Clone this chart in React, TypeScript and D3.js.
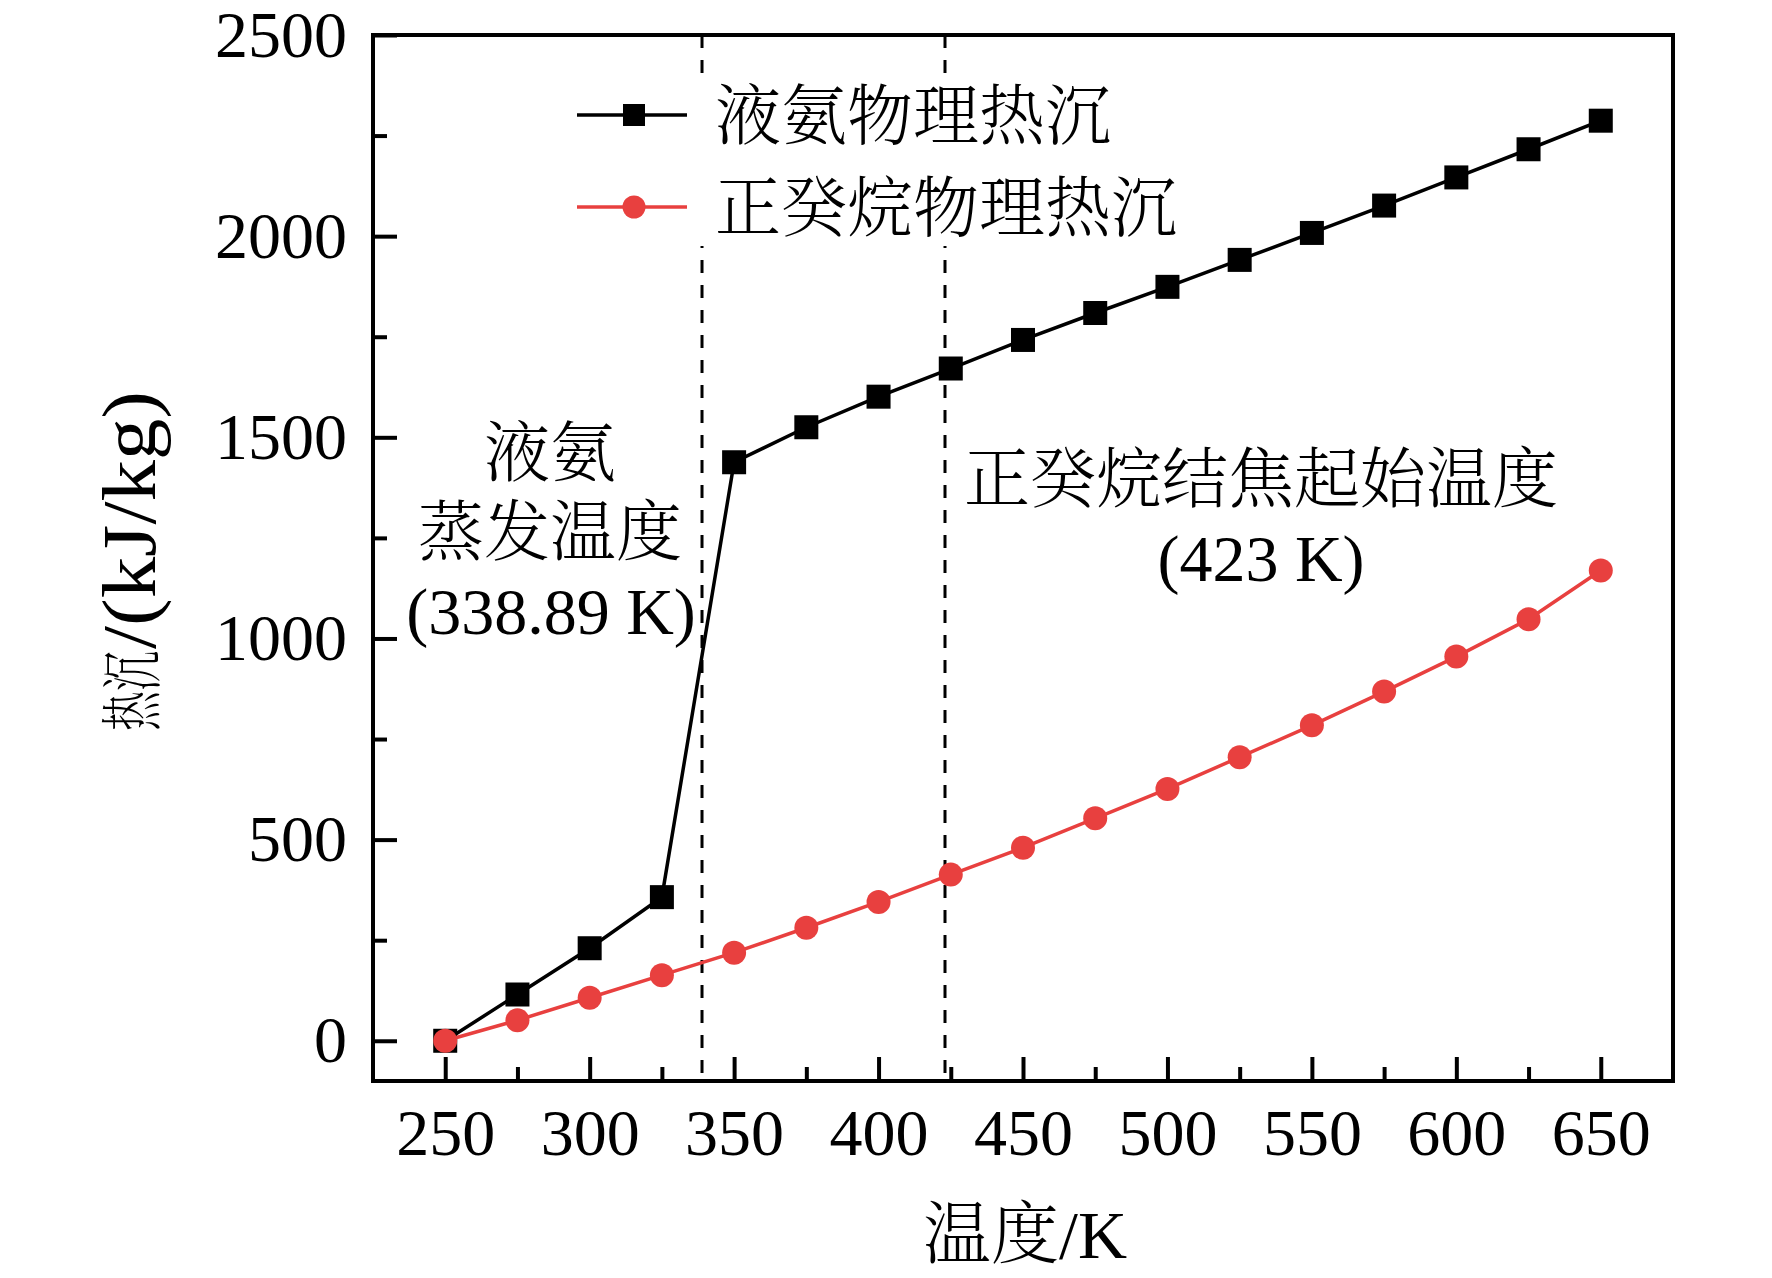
import React, { useEffect, useRef } from 'react';
import * as d3 from 'd3';

// temperatures (K) and physical heat sink (kJ/kg)
const temps = [250, 275, 300, 325, 350, 375, 400, 425, 450, 475, 500, 525, 550, 575, 600, 625, 650];
const ammonia = [0, 115, 230, 357, 1438, 1525, 1601, 1671, 1742, 1809, 1874, 1941, 2008, 2076, 2146, 2216, 2287];
const decane = [0, 51, 107, 163, 219, 281, 345, 413, 480, 553, 626, 705, 784, 868, 955, 1048, 1169];

const seriesNames = ['液氨物理热沉', '正癸烷物理热沉'];
const markerLines = [338.89, 423];
const xMajor = [250, 300, 350, 400, 450, 500, 550, 600, 650];
const xMinor = [275, 325, 375, 425, 475, 525, 575, 625];
const yMajor = [0, 500, 1000, 1500, 2000, 2500];
const yMinor = [250, 750, 1250, 1750, 2250];

const W = 1772;
const H = 1278;
const margin = { top: 35, right: 99, bottom: 197, left: 373 };
const FONT = "'Liberation Serif', 'Times New Roman', 'Noto Serif CJK SC', 'Noto Sans CJK SC', serif";
const RED = '#e8403f';

export default function App() {
  const xAxisRef = useRef<SVGGElement>(null);
  const yAxisRef = useRef<SVGGElement>(null);

  const x = d3.scaleLinear().domain([225, 675]).range([margin.left, W - margin.right]);
  const y = d3.scaleLinear().domain([-100, 2500]).range([H - margin.bottom, margin.top]);

  useEffect(() => {
    const gx = d3.select(xAxisRef.current);
    gx.selectAll('*').remove();
    gx.append('g')
      .call(d3.axisBottom(x).tickValues(xMajor).tickSizeInner(-24).tickSizeOuter(0).tickPadding(27).tickFormat(d3.format('d')));
    gx.append('g')
      .call(d3.axisBottom(x).tickValues(xMinor).tickSizeInner(-14).tickSizeOuter(0).tickFormat(() => ''));

    const gy = d3.select(yAxisRef.current);
    gy.selectAll('*').remove();
    gy.append('g')
      .call(d3.axisLeft(y).tickValues(yMajor).tickSizeInner(-24).tickSizeOuter(0).tickPadding(26).tickFormat(d3.format('d')));
    gy.append('g')
      .call(d3.axisLeft(y).tickValues(yMinor).tickSizeInner(-14).tickSizeOuter(0).tickFormat(() => ''));

    [gx, gy].forEach((g) => {
      g.selectAll('.domain').remove();
      g.selectAll('line').attr('stroke', '#000').attr('stroke-width', 4);
      g.selectAll('text')
        .attr('fill', '#000')
        .style('font-family', FONT)
        .style('font-size', '66px');
    });
  }, []);

  const line = d3
    .line<number>()
    .x((_, i) => x(temps[i]))
    .y((d) => y(d));

  const sq = 24;

  return (
    <svg
      width={W}
      height={H}
      style={{ position: 'absolute', left: 0, top: 0, background: '#fff', display: 'block' }}
      fontFamily={FONT}
    >
      <rect x={0} y={0} width={W} height={H} fill="#fff" />

      {/* dashed reference temperatures */}
      {markerLines.map((t) => (
        <line
          key={t}
          x1={x(t)}
          x2={x(t)}
          y1={y(2500)}
          y2={y(-100)}
          stroke="#000"
          strokeWidth={3}
          strokeDasharray="13,12"
        />
      ))}

      {/* legend box hides the dashed lines */}
      <rect x={580} y={76} width={620} height={170} fill="#fff" />

      {/* ammonia series */}
      <path d={line(ammonia) || ''} fill="none" stroke="#000" strokeWidth={3.5} />
      {ammonia.map((v, i) => (
        <rect key={'a' + i} x={x(temps[i]) - sq / 2} y={y(v) - sq / 2} width={sq} height={sq} fill="#000" />
      ))}

      {/* n-decane series */}
      <path d={line(decane) || ''} fill="none" stroke={RED} strokeWidth={3.5} />
      {decane.map((v, i) => (
        <circle key={'d' + i} cx={x(temps[i])} cy={y(v)} r={12} fill={RED} />
      ))}

      <g ref={xAxisRef} transform={`translate(0,${H - margin.bottom})`} />
      <g ref={yAxisRef} transform={`translate(${margin.left},0)`} />

      {/* frame */}
      <rect
        x={margin.left}
        y={margin.top}
        width={W - margin.left - margin.right}
        height={H - margin.top - margin.bottom}
        fill="none"
        stroke="#000"
        strokeWidth={4}
      />

      {/* legend */}
      <g>
        <line x1={577} x2={687} y1={115} y2={115} stroke="#000" strokeWidth={3.5} />
        <rect x={634 - 11} y={115 - 11} width={22} height={22} fill="#000" />
        <text x={715} y={115} dy="0.37em" fontSize={66} fontWeight={300}>{seriesNames[0]}</text>
        <line x1={577} x2={687} y1={207} y2={207} stroke={RED} strokeWidth={3.5} />
        <circle cx={634} cy={207} r={11.5} fill={RED} />
        <text x={715} y={207} dy="0.37em" fontSize={66} fontWeight={300}>{seriesNames[1]}</text>
      </g>

      {/* annotations */}
      <g textAnchor="middle" fontSize={66} fontWeight={300}>
        <text x={550} y={476}>液氨</text>
        <text x={550} y={555}>蒸发温度</text>
        <text x={551} y={634}>(338.89 K)</text>
        <text x={1261} y={502}>正癸烷结焦起始温度</text>
        <text x={1261} y={581}>(423 K)</text>
      </g>

      {/* axis titles */}
      <text x={1025} y={1258} textAnchor="middle" fontSize={68} fontWeight={300}>温度/K</text>
      <g transform="translate(155,731) rotate(-90)" fontWeight={300}>
        <text x={0} y={0} fontSize={62} textLength={80} lengthAdjust="spacingAndGlyphs">热沉</text>
        <text x={82} y={0} fontSize={76} textLength={258} lengthAdjust="spacingAndGlyphs">/(kJ/kg)</text>
      </g>
    </svg>
  );
}
